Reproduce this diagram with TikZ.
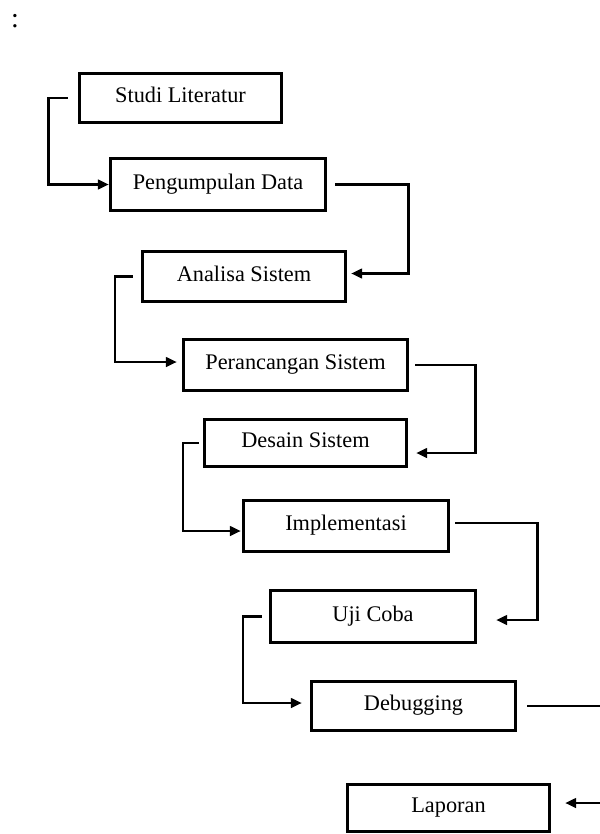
\documentclass[tikz,border=0pt]{standalone}
\usepackage{fontspec}
\setmainfont{Liberation Serif}
\usetikzlibrary{arrows.meta}
\begin{document}
\begin{tikzpicture}[x=1bp,y=-1bp,
  box/.style={draw=black, line width=3.3bp, inner sep=0pt,
    font=\fontsize{22.3bp}{26bp}\selectfont, text height=14.5bp, text depth=4.9bp},
  conn/.style={draw=black, line width=2.7bp, -{Triangle[length=11bp,width=9.5bp]}}]
\useasboundingbox (0,0) rectangle (600,834);
\clip (0,0) rectangle (600,834);
\node[font=\fontsize{28bp}{32bp}\selectfont] (colon) at (15,21) {:};
\node[box, minimum width=202bp, minimum height=49bp] (studi) at (180.5,98) {Studi Literatur};
\node[box, minimum width=215bp, minimum height=52bp] (peng) at (218,184.5) {Pengumpulan Data};
\node[box, minimum width=203bp, minimum height=50bp] (anal) at (244,276.5) {Analisa Sistem};
\node[box, minimum width=224bp, minimum height=51bp] (peran) at (295.5,365) {Perancangan Sistem};
\node[box, minimum width=202bp, minimum height=47bp] (desain) at (305.5,443) {Desain Sistem};
\node[box, minimum width=205bp, minimum height=51bp] (impl) at (346,526) {Implementasi};
\node[box, minimum width=205bp, minimum height=52bp] (uji) at (373,616.5) {Uji Coba};
\node[box, minimum width=204bp, minimum height=49bp] (debug) at (413.5,706) {Debugging};
\node[box, minimum width=202bp, minimum height=47bp] (lapor) at (448.5,808) {Laporan};

\draw[conn, shorten <=10bp] (studi.west) -- ++(-29,0) |- (peng.west);
\draw[conn, shorten <=8bp, shorten >=4bp] (peng.east) -- ++(81,0) |- ([yshift=3bp]anal.east);
\draw[conn, shorten <=8bp, shorten >=5bp] (anal.west) -- ++(-26,0) |- ([yshift=3bp]peran.west);
\draw[conn, shorten <=6bp, shorten >=8bp] (peran.east) -- ++(66,0) |- ([yshift=-10bp]desain.east);
\draw[conn, shorten <=4bp, shorten >=1bp] (desain.west) -- ++(-20,0) |- ([yshift=-5bp]impl.west);
\draw[conn, shorten <=5bp, shorten >=19bp] ([yshift=3bp]impl.east) -- ++(87,0) |- ([yshift=-3.5bp]uji.east);
\draw[conn, shorten <=7bp, shorten >=8bp] (uji.west) -- ++(-26,0) |- ([yshift=3bp]debug.west);
\draw[conn, shorten <=10bp, shorten >=14bp] (debug.east) -- ++(100,0) |- ([yshift=5bp]lapor.east);
\end{tikzpicture}
\end{document}
